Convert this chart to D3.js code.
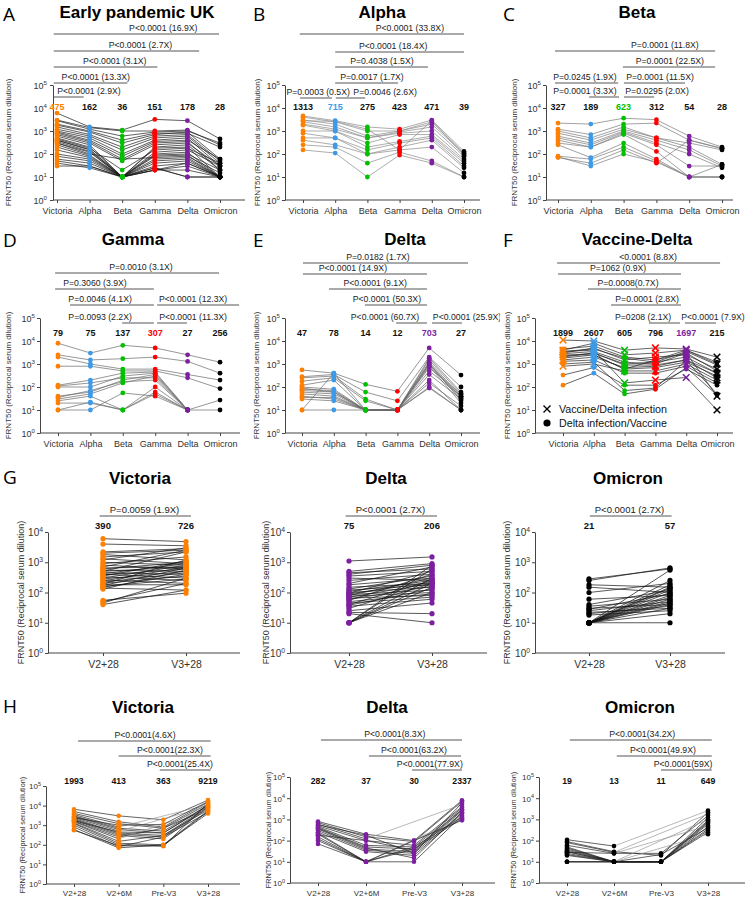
<!DOCTYPE html>
<html><head><meta charset="utf-8">
<script src="https://cdn.jsdelivr.net/npm/d3@7"></script>
<style>body{margin:0;background:#fff}svg{display:block;font-family:"Liberation Sans",Arial,sans-serif}</style>
</head><body><svg id="chart" width="751" height="899"></svg>
<script>
// ---------------- categories ----------------
const variants = ["Victoria","Alpha","Beta","Gamma","Delta","Omicron"];
const visits2 = ["V2+28","V3+28"];
const visits4 = ["V2+28","V2+6M","Pre-V3","V3+28"];
const variantColors = ["#ff7f00","#3d9ae8","#00c000","#ff0000","#7d1fa0","#000000"];
const rowTitles = ["Early pandemic UK","Alpha","Beta","Gamma","Delta","Vaccine-Delta"];
const boostTitles = ["Victoria","Delta","Omicron"];
const letters = ["A","B","C","D","E","F","G","H"];
const yAxisTitle = "FRNT50  (Reciprocal serum dilution)";
const legendLabels = ["Vaccine/Delta infection","Delta infection/Vaccine"];

// ---------------- series (one row per subject) ----------------
const earlyUKSera = [
 [6000,1500,1100,3200,2800,450],[3000,1400,1000,1000,1100,250],[2800,1200,600,900,1000,300],
 [2000,1000,400,800,800,200],[1800,900,300,700,900,60],[1500,700,200,600,700,50],
 [1200,600,150,500,600,40],[1000,500,100,400,500,30],[900,400,80,350,400,60],
 [800,350,60,300,350,20],[700,300,50,250,300,30],[600,250,10,200,250,20],
 [500,200,10,180,200,10],[450,180,20,150,180,40],[400,160,10,120,150,30],
 [400,150,10,100,120,10],[350,130,10,90,100,20],[300,120,10,80,90,10],
 [300,100,60,70,80,15],[250,90,10,60,70,10],[200,80,10,50,60,10],
 [150,70,10,40,50,10],[100,60,10,30,40,10],[80,50,10,25,10,10],
 [60,40,10,20,40,10],[50,30,10,20,20,10],[40,25,10,25,10,10],[30,30,10,20,30,10]
];
const alphaSera = [
 [4500,2800,1500,1200,3000,130],[4000,2500,1000,1000,2500,110],[3000,2000,600,1000,2000,100],
 [2500,1500,500,900,1500,80],[2000,1200,500,800,1000,60],[1800,1000,300,700,700,50],
 [1000,1000,200,350,600,40],[800,500,150,300,500,30],[500,500,100,200,400,25],
 [400,250,100,150,200,15],[250,200,40,120,50,10],[150,110,10,90,40,10],[2800,2600,1200,150,2800,90]
];
const betaSera = [
 [2200,2000,3600,3100,600,200],[1200,700,2000,2200,400,180],[1000,500,1500,500,300,150],
 [800,400,1200,500,200,35],[600,300,1000,400,150,30],[500,250,900,300,100,25],
 [400,200,800,250,30,30],[300,200,700,130,10,10],[250,70,300,60,10,10],
 [80,60,200,50,10,35],[70,40,150,40,400,170],[75,30,100,45,10,10]
];
const gammaSera = [
 [8000,3000,6500,5000,2500,1200],[2500,1500,1700,2000,1300,400],[2000,1000,600,600,350,200],
 [800,800,500,500,250,85],[120,200,400,450,10,27],[100,100,300,400,10,10],
 [40,60,200,350,10,null],[30,50,150,300,10,null],[25,40,10,100,10,null],
 [20,20,10,60,10,null],[10,10,55,40,10,null],[10,22,10,50,10,null],
 [110,150,250,250,10,null],[35,70,170,200,10,null]
];
const deltaSera = [
 [550,400,130,65,5000,330],[280,350,60,25,2000,100],[250,300,30,10,1800,60],
 [180,250,25,10,1500,50],[120,200,10,10,1200,40],[100,80,10,10,1000,35],
 [80,70,10,10,900,30],[70,60,10,10,800,20],[60,50,10,10,700,50],
 [50,40,10,10,350,30],[40,30,10,10,200,10],[30,25,10,10,150,15],
 [10,10,10,10,100,10],[10,400,10,10,90,10],[90,60,10,10,500,40],[35,35,10,10,1100,25]
];
const vaccineThenDelta = [
 [11000,10000,4000,5000,4500,2000],[4000,8000,2500,3000,4000,1000],[3000,5000,1500,2000,2500,600],
 [2000,3000,1000,1200,2000,400],[1500,2000,700,800,1500,250],[800,1000,500,500,1000,200],
 [3500,4000,150,200,260,10],[2500,2500,600,1500,3000,40]
];
const deltaThenVaccine = [
 [4500,6000,2000,1500,4000,1200],[3500,4500,1800,1200,3500,900],[2800,3500,1200,1000,3000,500],
 [2200,3000,900,900,1500,400],[1800,2500,600,700,1200,300],[1300,1500,400,400,800,150],
 [330,700,120,120,600,120],[120,400,50,80,700,45],[1000,1200,70,90,1400,50]
];
const boostVictoria = [
 [6000,4800],[4000,3500],[2200,2800],[2000,2500],[1800,1200],[1500,2200],[1300,900],[1200,3000],
 [1000,800],[900,1500],[800,600],[700,2500],[650,700],[600,1000],[550,500],[500,700],[450,400],
 [420,900],[400,300],[380,600],[350,1100],[330,250],[300,800],[280,500],[260,200],[240,700],
 [220,450],[200,350],[190,1200],[180,180],[170,650],[160,280],[150,400],[140,120],[130,550],
 [55,95],[50,200],[45,300],[40,120],[500,2200]
];
const boostDelta = [
 [1100,1500],[500,900],[450,600],[400,800],[350,500],[300,250],[250,400],[200,700],[180,300],
 [150,200],[130,350],[120,180],[110,250],[100,150],[95,500],[90,220],[85,120],[80,300],[75,100],
 [70,200],[65,80],[60,160],[55,400],[50,90],[45,70],[40,250],[38,130],[35,60],[30,200],[25,45],
 [22,20],[20,10],[10,800],[10,300],[10,150],[10,100],[10,200],[10,600]
];
const boostOmicron = [
 [280,600],[250,650],[180,150],[150,100],[100,200],[60,80],[40,120],[35,60],[30,40],[28,90],
 [25,50],[22,30],[20,35],[18,25],[10,550],[10,250],[10,180],[10,150],[10,120],[10,100],[10,80],
 [10,70],[10,60],[10,50],[10,40],[10,30],[10,20],[10,10],[10,140],[10,45]
];
const timeVictoria = [
 [6500,3000,1900,19000],[5000,1500,800,15000],[4000,1200,700,12000],[3500,800,null,11000],
 [3000,700,500,10000],[2800,600,400,9500],[2500,500,null,9000],[2200,400,300,8500],
 [2000,350,250,8000],[1800,300,200,7500],[1600,250,700,7000],[1500,200,null,6500],
 [1300,150,300,6000],[1200,120,100,5500],[1000,100,90,5000],[800,80,250,4500],
 [600,70,100,4000],[550,90,85,13000],[2400,1000,1100,16000],[1700,450,400,10500]
];
const timeDelta = [
 [800,200,100,8000],[700,150,90,7000],[600,120,null,5000],[500,100,60,4000],[450,60,50,3500],
 [400,50,40,3000],[350,40,30,2500],[300,35,25,2000],[250,30,20,1800],[200,10,10,1500],
 [150,10,null,1200],[120,10,null,1000],[100,10,100,900],[70,10,40,1100],[550,180,25,6000],
 [380,45,15,2200],[230,10,50,1300],[180,100,35,2800]
];
const timeOmicron = [
 [110,55,null,2600],[90,30,20,2200],[80,28,null,1800],[60,25,25,1500],[50,10,10,1200],
 [40,10,null,1000],[35,10,10,800],[30,10,10,600],[28,25,null,500],[25,10,22,400],[20,10,10,350],
 [10,10,10,300],[10,10,10,250],[10,10,null,200],[30,10,10,900],[45,10,10,700],[22,10,10,450]
];

// ---------------- geometric mean titres ----------------
const gmtA = [475,162,36,151,178,28];
const gmtB = [1313,715,275,423,471,39];
const gmtC = [327,189,623,312,54,28];
const gmtD = [79,75,137,307,27,256];
const gmtE = [47,78,14,12,703,27];
const gmtF = [1899,2607,605,796,1697,215];
const gmtGVic = [390,726], gmtGDelta = [75,206], gmtGOmi = [21,57];
const gmtHVic = [1993,413,363,9219], gmtHDelta = [282,37,30,2337], gmtHOmi = [19,13,11,649];

// ---------------- comparison labels ----------------
const pA = ["P<0.0001 (16.9X)","P<0.0001 (2.7X)","P<0.0001 (3.1X)","P<0.0001 (13.3X)","P<0.0001 (2.9X)"];
const pB = ["P<0.0001 (33.8X)","P<0.0001 (18.4X)","P=0.4038 (1.5X)","P=0.0017 (1.7X)","P=0.0003 (0.5X)","P=0.0046 (2.6X)"];
const pC = ["P=0.0001 (11.8X)","P=0.0001 (22.5X)","P=0.0245 (1.9X)","P=0.0001 (11.5X)","P=0.0001 (3.3X)","P=0.0295 (2.0X)"];
const pD = ["P=0.0010 (3.1X)","P=0.3060 (3.9X)","P=0.0046 (4.1X)","P<0.0001 (12.3X)","P=0.0093 (2.2X)","P<0.0001 (11.3X)"];
const pE = ["P=0.0182 (1.7X)","P<0.0001 (14.9X)","P<0.0001 (9.1X)","P<0.0001 (50.3X)","P<0.0001 (60.7X)","P<0.0001 (25.9X)"];
const pF = ["<0.0001 (8.8X)","P=1062 (0.9X)","P=0.0008(0.7X)","P=0.0001 (2.8X)","P=0208 (2.1X)","P<0.0001 (7.9X)"];
const pGVic = ["P=0.0059 (1.9X)"], pGDelta = ["P<0.0001 (2.7X)"], pGOmi = ["P<0.0001 (2.7X)"];
const pHVic = ["P<0.0001(4.6X)","P<0.0001(22.3X)","P<0.0001(25.4X)"];
const pHDelta = ["P<0.0001(8.3X)","P<0.0001(63.2X)","P<0.0001(77.9X)"];
const pHOmi = ["P<0.0001(34.2X)","P<0.0001(49.9X)","P<0.0001(59X)"];

// ---------------- layout (positions only) ----------------
const fRow = {yt:9, xt:9, p:8.7, gmt:9, yl:8, r:2.4};
const fG = {yt:10, xt:10.5, p:9.5, gmt:9.5, yl:9, r:2.6};
const fH = {yt:8, xt:8, p:8.7, gmt:8.7, yl:7.3, r:2.3};
const R1 = {yTop:85, yBot:200, gmtY:109.5, tickY:214, titleY:18, letterY:21, maxExp:5};
const R2 = {yTop:318, yBot:433, gmtY:335.5, tickY:447, titleY:245, letterY:247, maxExp:5};
const layA = Object.assign({axisX:53,xEnd:245,cat:[57,220],titleX:137,letterX:3,ylabX:8,tickDx:-6,
  br:[[-0.1,4.97,3.26,34],[-0.1,4.36,2.56,51],[-0.1,3.08,1.77,67],[-0.1,2.16,1.19,83],[-0.1,0.82,0.98,97]]},R1);
const layB = Object.assign({axisX:285,xEnd:480,cat:[303,464],titleX:382,letterX:253,ylabX:257,
  br:[[-0.1,5,3.32,34],[1,5,2.8,52],[1,3.88,2.45,67],[1,2.95,2.14,83],[-0.09,0.9,0.47,98],[1.02,1.93,2.55,98]]},R1);
const layC = Object.assign({axisX:546,xEnd:733,cat:[558,722],titleX:637,letterX:503,ylabX:514,
  br:[[-0.09,4.79,3.26,51],[1.98,4.79,3.41,67],[-0.09,1.83,0.82,83],[2.01,3.87,3.11,83],[0.95,1.86,0.82,97],[2.01,2.93,3.02,97]]},R1);
const layD = Object.assign({axisX:40,xEnd:240,cat:[58,220],titleX:133,letterX:3,ylabX:8,
  br:[[-0.09,4.97,2.56,273],[-0.09,2.96,1.14,289],[0.37,2.96,1.3,305],[3.06,5.59,4.17,305],[1.98,2.96,1.3,323],[3.06,3.98,4.17,323]]},R2);
const layE = Object.assign({axisX:285,xEnd:480,cat:[302,461],titleX:405,letterX:253,ylabX:256,clipRight:500,
  br:[[0.03,5.22,2.39,263],[0.03,3.93,1.6,274],[0.85,3.93,2.3,289],[1.98,3.93,2.67,305],[2.96,3.93,2.61,323],[4.09,5.03,5.19,323]]},R2);
const layF = Object.assign({axisX:535,xEnd:733,cat:[563,717],titleX:637,letterX:503,ylabX:507,
  br:[[-0.19,5.1,2.76,263],[-0.16,3.83,1.79,274],[0.81,3.83,2.11,289],[1.56,3.83,2.73,305],[2.79,3.8,2.6,323],[3.96,4.97,4.87,323]],
  legend:{x:547,y:[409,423],tx:559}},R2);
const RG = {yTop:532, yBot:653, gmtY:529, tickY:668, titleY:484, letterY:484, maxExp:4};
const layGVic = Object.assign({axisX:48,xEnd:240,cat:[103,186],titleX:140,letterX:3,ylabX:21,br:[[-0.04,1.06,0.5,516]]},RG);
const layGDelta = Object.assign({axisX:290,xEnd:487,cat:[349,432],titleX:386,ylabX:266,br:[[-0.04,1.06,0.5,516]]},RG);
const layGOmi = Object.assign({axisX:535,xEnd:725,cat:[589,670],titleX:628,ylabX:507,br:[[0.01,1.02,0.5,516]]},RG);
const RH = {gmtY:784, tickY:896, titleY:713, letterY:713, maxExp:5, yBot:884};
const layHVic = Object.assign({},RH,{axisX:46,xEnd:240,cat:[74,208],yTop:786,titleX:143,letterX:3,ylabX:22,
  br:[[0.09,3.06,1.59,741],[1,3.06,2.15,756],[1.92,3.06,2.37,770]]});
const layHDelta = Object.assign({},RH,{axisX:290,xEnd:495,cat:[318,462],yTop:777,yBot:883,titleX:387,ylabX:268,
  br:[[0.06,3,1.6,740],[1.06,2.98,2.0,756],[1.96,3,2.33,770]]});
const layHOmi = Object.assign({},RH,{axisX:539,xEnd:745,cat:[567,708],yTop:777,yBot:883,titleX:640,ylabX:513,
  br:[[0.06,3.08,1.6,740],[1.06,3.08,2.04,756],[2,3.08,2.47,770]]});

// ---------------- panels ----------------
const purple = variantColors[4], orange = variantColors[0], black = variantColors[5];
const panels = [
 {lay:layA, f:fRow, cats:variants, groups:[earlyUKSera], colors:variantColors, gmt:gmtA, hi:0, p:pA, title:rowTitles[0], letter:letters[0], lineCol:"#1a1a1a"},
 {lay:layB, f:fRow, cats:variants, groups:[alphaSera], colors:variantColors, gmt:gmtB, hi:1, p:pB, title:rowTitles[1], letter:letters[1], lineCol:"#8a8a8a"},
 {lay:layC, f:fRow, cats:variants, groups:[betaSera], colors:variantColors, gmt:gmtC, hi:2, p:pC, title:rowTitles[2], letter:letters[2], lineCol:"#7a7a7a"},
 {lay:layD, f:fRow, cats:variants, groups:[gammaSera], colors:variantColors, gmt:gmtD, hi:3, p:pD, title:rowTitles[3], letter:letters[3], lineCol:"#6a6a6a"},
 {lay:layE, f:fRow, cats:variants, groups:[deltaSera], colors:variantColors, gmt:gmtE, hi:4, p:pE, title:rowTitles[4], letter:letters[4], lineCol:"#6a6a6a"},
 {lay:layF, f:fRow, cats:variants, groups:[vaccineThenDelta, deltaThenVaccine], shapes:["x","o"], colors:variantColors, gmt:gmtF, hi:4, p:pF, title:rowTitles[5], letter:letters[5], lineCol:"#222"},
 {lay:layGVic, f:fG, cats:visits2, groups:[boostVictoria], colors:[orange,orange], gmt:gmtGVic, hi:-1, p:pGVic, title:boostTitles[0], letter:letters[6], lineCol:"#111"},
 {lay:layGDelta, f:fG, cats:visits2, groups:[boostDelta], colors:[purple,purple], gmt:gmtGDelta, hi:-1, p:pGDelta, title:boostTitles[1], lineCol:"#111"},
 {lay:layGOmi, f:fG, cats:visits2, groups:[boostOmicron], colors:[black,black], gmt:gmtGOmi, hi:-1, p:pGOmi, title:boostTitles[2], lineCol:"#111"},
 {lay:layHVic, f:fH, cats:visits4, groups:[timeVictoria], colors:[orange,orange,orange,orange], gmt:gmtHVic, hi:-1, p:pHVic, title:boostTitles[0], letter:letters[7], lineCol:"#222", skipCol:"#9a9a9a"},
 {lay:layHDelta, f:fH, cats:visits4, groups:[timeDelta], colors:[purple,purple,purple,purple], gmt:gmtHDelta, hi:-1, p:pHDelta, title:boostTitles[1], lineCol:"#222", skipCol:"#9a9a9a"},
 {lay:layHOmi, f:fH, cats:visits4, groups:[timeOmicron], colors:[black,black,black,black], gmt:gmtHOmi, hi:-1, p:pHOmi, title:boostTitles[2], lineCol:"#222", skipCol:"#9a9a9a"}
];

const svg = d3.select("#chart");
const defs = svg.append("defs");
const FONT = "Liberation Sans, Arial, sans-serif";
const AX = "#444";

function xMark(sel, s){ sel.attr("d", `M${-s},${-s}L${s},${s}M${-s},${s}L${s},${-s}`); }

function drawPanel(P, idx){
  const L = P.lay, F = P.f;
  const g = svg.append("g");
  if (L.clipRight){
    defs.append("clipPath").attr("id","clip"+idx).append("rect")
      .attr("x",0).attr("y",0).attr("width",L.clipRight).attr("height",899);
    g.attr("clip-path", `url(#clip${idx})`);
  }
  const y = d3.scaleLog().domain([1, Math.pow(10, L.maxExp)]).range([L.yBot, L.yTop]);
  const x = d3.scalePoint().domain(P.cats).range(L.cat);
  const xi = d3.scaleLinear().domain([0, P.cats.length-1]).range(L.cat);
  const ticks = d3.range(0, L.maxExp+1).map(e => Math.pow(10, e));

  // y axis
  const ya = g.append("g").attr("transform", `translate(${L.axisX},0)`)
    .call(d3.axisLeft(y).tickValues(ticks).tickFormat("").tickSize(3).tickSizeOuter(0))
    .attr("font-family", FONT);
  ya.selectAll("path,line").attr("stroke", AX);
  ya.selectAll(".tick text").remove();
  ya.selectAll(".tick").each(function(d){
    const t = d3.select(this).append("text").attr("x", L.tickDx || -5).attr("y", F.yt*0.36)
      .attr("text-anchor","end").attr("font-size", F.yt).attr("fill","#333");
    t.append("tspan").text("10");
    t.append("tspan").attr("dy", -F.yt*0.42).attr("font-size", F.yt*0.68).text(Math.round(Math.log10(d)));
  });

  // x axis
  const xa = g.append("g").attr("transform", `translate(0,${L.yBot})`)
    .call(d3.axisBottom(x).tickSize(3).tickSizeOuter(0)).attr("font-family", FONT);
  xa.select(".domain").attr("d", `M${L.axisX},0H${L.xEnd}`).attr("stroke", AX);
  xa.selectAll("line").attr("stroke", AX);
  xa.selectAll("text").attr("y", L.tickY - L.yBot).attr("dy", null)
    .attr("font-size", F.xt).attr("fill","#333");

  // y axis title
  g.append("text").attr("transform", `translate(${L.ylabX},${(L.yTop+L.yBot)/2}) rotate(-90)`)
    .attr("text-anchor","middle").attr("dy","0.35em").attr("font-size", F.yl).attr("fill","#333").text(yAxisTitle);

  // subject lines
  P.groups.forEach(rows => rows.forEach(row => {
    const pts = P.cats.map((c,i) => ({c, i, v: row[i]})).filter(d => d.v != null);
    for (let k = 1; k < pts.length; k++){
      const a = pts[k-1], b = pts[k];
      const skip = (b.i - a.i) > 1;
      g.append("path").datum([a,b])
        .attr("d", d3.line().x(d => x(d.c)).y(d => y(d.v)))
        .attr("fill","none").attr("stroke", skip && P.skipCol ? P.skipCol : P.lineCol)
        .attr("stroke-width", 0.7);
    }
  }));

  // points
  P.groups.forEach((rows, gi) => {
    const shape = P.shapes ? P.shapes[gi] : "o";
    rows.forEach(row => row.forEach((v, i) => {
      if (v == null) return;
      if (shape === "x"){
        g.append("path").attr("transform", `translate(${x(P.cats[i])},${y(v)})`)
          .call(xMark, 3.3).attr("stroke", P.colors[i]).attr("stroke-width", 1.5).attr("fill","none");
      } else {
        g.append("circle").attr("cx", x(P.cats[i])).attr("cy", y(v)).attr("r", F.r).attr("fill", P.colors[i]);
      }
    }));
  });

  // GMT labels
  g.selectAll(".gmt").data(P.gmt).join("text").attr("class","gmt")
    .attr("x", (d,i) => xi(i)).attr("y", L.gmtY).attr("text-anchor","middle")
    .attr("font-size", F.gmt).attr("font-weight","bold")
    .attr("fill", (d,i) => i === P.hi ? P.colors[i] : "#111").text(d => d);

  // comparison brackets
  L.br.forEach((b, k) => {
    g.append("line").attr("x1", xi(b[0])).attr("x2", xi(b[1])).attr("y1", b[3]).attr("y2", b[3])
      .attr("stroke", "#555").attr("stroke-width", 1);
    g.append("text").attr("x", xi(b[2])).attr("y", b[3]-2.6).attr("text-anchor","middle")
      .attr("font-size", F.p).attr("fill","#222").text(P.p[k]);
  });

  // title & letter
  g.append("text").attr("x", L.titleX).attr("y", L.titleY).attr("text-anchor","middle")
    .attr("font-size", 17).attr("font-weight","bold").attr("fill","#000").text(P.title);
  if (P.letter){
    g.append("text").attr("x", L.letterX).attr("y", L.letterY).attr("font-family","Open Sans, sans-serif")
      .attr("font-size", 19).attr("fill","#000").text(P.letter);
  }

  // legend (panel F)
  if (L.legend){
    const lg = L.legend;
    g.append("path").attr("transform", `translate(${lg.x},${lg.y[0]})`).call(xMark, 3.5)
      .attr("stroke","#000").attr("stroke-width",1.4).attr("fill","none");
    g.append("circle").attr("cx", lg.x).attr("cy", lg.y[1]).attr("r", 3.6).attr("fill","#000");
    legendLabels.forEach((t, k) => g.append("text").attr("x", lg.tx).attr("y", lg.y[k]).attr("dy","0.35em")
      .attr("font-size", 10.7).attr("fill","#111").text(t));
  }
}
panels.forEach(drawPanel);
</script></body></html>
